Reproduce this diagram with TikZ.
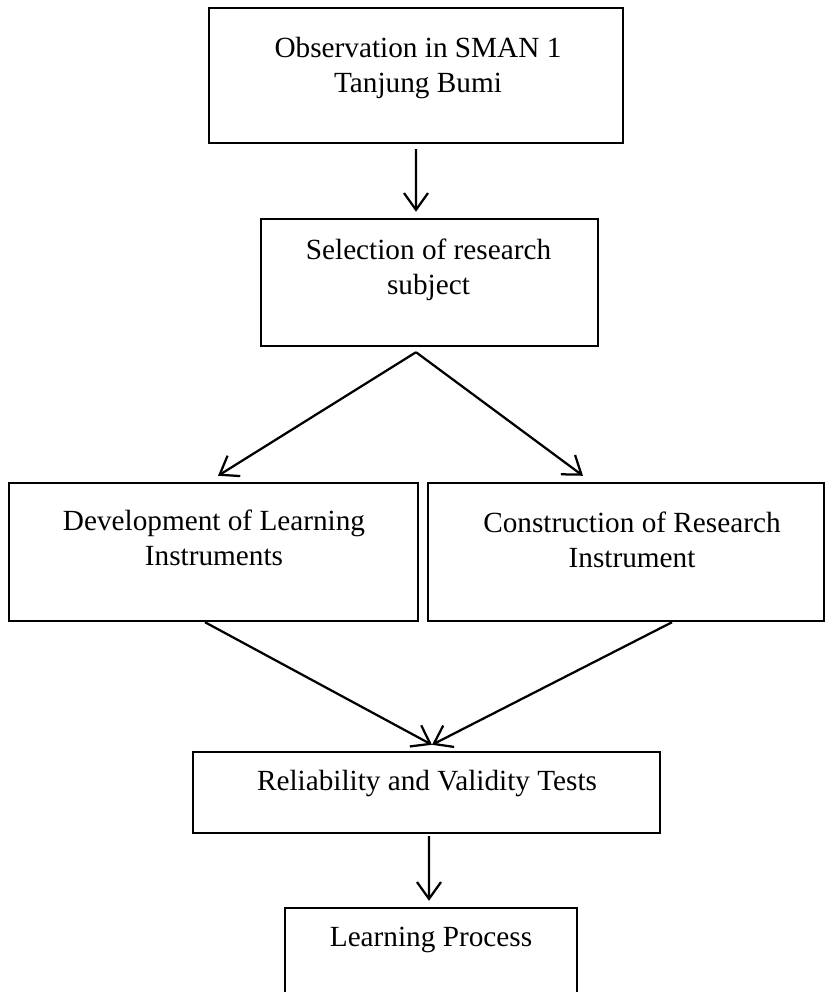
\documentclass[tikz,border=0pt]{standalone}
\usepackage{fontspec}
\setmainfont{Liberation Serif}
\usetikzlibrary{arrows.meta}

\begin{document}
\begin{tikzpicture}[x=0.025cm, y=-0.025cm,
    stepbox/.style={draw, line width=1.7pt, inner sep=0pt},
    steptext/.style={font=\fontsize{20.8}{24.3}\selectfont, align=center, anchor=base, inner sep=0pt},
    flow/.style={line width=1.6pt, ->},
    >={Straight Barb[length=0.42cm, width=0.6cm]}]
      \useasboundingbox (0,0) rectangle (825,992);
      % -------------------------------------------- boxes
      % set the nodes
      \node[stepbox, minimum width=10.35cm, minimum height=3.375cm] at (416, 75.5) (obs) {};
      \node[stepbox, minimum width=8.425cm, minimum height=3.175cm] at (429.5, 282.5) (sel) {};
      \node[stepbox, minimum width=10.225cm, minimum height=3.45cm] at (213.5, 552) (dev) {};
      \node[stepbox, minimum width=9.9cm, minimum height=3.45cm] at (626, 552) (con) {};
      \node[stepbox, minimum width=11.675cm, minimum height=2.025cm] at (426.5, 792.5) (rel) {};
      \node[stepbox, minimum width=7.3cm, minimum height=2.25cm] at (431, 953) (proc) {};
      % -------------------------------------------- texts
      % (base = baseline of the last line)
      \node[steptext] at (418, 92) (obs_txt) {Observation in SMAN 1\\Tanjung Bumi};
      \node[steptext] at (428.5, 294) (sel_txt) {Selection of research\\subject};
      \node[steptext] at (214, 565) (dev_txt) {Development of Learning\\Instruments};
      \node[steptext] at (632, 567) (con_txt) {Construction of Research\\Instrument};
      \node[steptext] at (427, 790) (rel_txt) {Reliability and Validity Tests};
      \node[steptext] at (431, 946) (proc_txt) {Learning Process};
      % -------------------------------------------- arrows
      % draw edges
      \draw[flow] ([yshift=-0.125cm]obs.south) -- ([xshift=-0.3375cm, yshift=0.15cm]sel.north);
      \draw[flow] ([xshift=-0.3375cm, yshift=-0.125cm]sel.south) -- ([xshift=0.1125cm, yshift=0.15cm]dev.north);
      \draw[flow] ([xshift=-0.3375cm, yshift=-0.125cm]sel.south) -- ([xshift=-1.075cm, yshift=0.15cm]con.north);
      \draw[flow] ([xshift=-0.2125cm]dev.south) -- ([xshift=0.1375cm, yshift=0.15cm]rel.north);
      \draw[flow] ([xshift=1.15cm]con.south) -- ([xshift=0.1375cm, yshift=0.15cm]rel.north);
      \draw[flow] ([xshift=0.0625cm, yshift=-0.05cm]rel.south) -- ([xshift=-0.05cm, yshift=0.15cm]proc.north);
\end{tikzpicture}
\end{document}
